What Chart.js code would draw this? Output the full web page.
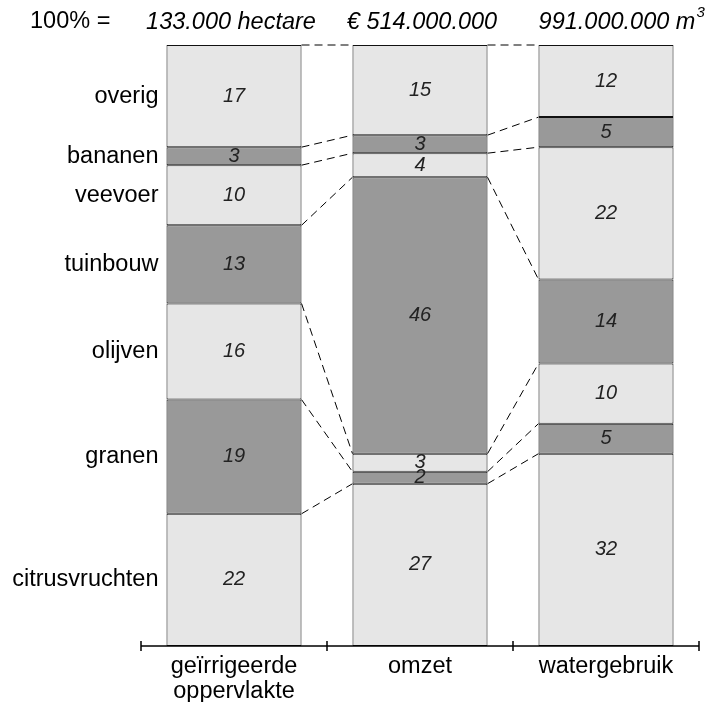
<!DOCTYPE html>
<html>
<head>
<meta charset="utf-8">
<script src="https://cdn.jsdelivr.net/npm/chart.js@4.4.1/dist/chart.umd.min.js"></script>
<style>
  html, body { margin: 0; padding: 0; background: #fff; }
  #wrap { width: 713px; height: 702px; }
</style>
</head>
<body>
<div id="wrap"><canvas id="chart" width="713" height="702"></canvas></div>
<script>
// columns (x categories)
const columns = [['geïrrigeerde', 'oppervlakte'], 'omzet', 'watergebruik'];
const totals = ['133.000 hectare', '€ 514.000.000', '991.000.000 m'];

// segments, bottom to top
const segments = ['citrusvruchten', 'granen', 'olijven', 'tuinbouw', 'veevoer', 'bananen', 'overig'];
const citrusvruchten = [22, 27, 32];
const granen = [19, 2, 5];
const olijven = [16, 3, 10];
const tuinbouw = [13, 46, 14];
const veevoer = [10, 4, 22];
const bananen = [3, 3, 5];
const overig = [17, 15, 12];

const values = [citrusvruchten, granen, olijven, tuinbouw, veevoer, bananen, overig];
const light = '#e6e6e6';
const dark = '#999999';

const font = '"Liberation Sans", Arial, sans-serif';

const overlay = {
    id: 'overlay',
    afterDatasetsDraw(chart) {
        const ctx = chart.ctx;
        const area = chart.chartArea;
        const xs = chart.scales.x;
        ctx.save();

        // dashed connectors between neighbouring bars
        ctx.strokeStyle = '#000';
        ctx.lineWidth = 1;
        ctx.setLineDash([8, 5]);
        chart.data.datasets.forEach((ds, d) => {
            const bars = chart.getDatasetMeta(d).data;
            for (let i = 0; i < bars.length - 1; i++) {
                const a = bars[i], b = bars[i + 1];
                ctx.beginPath();
                ctx.moveTo(a.x + a.width / 2, a.y);
                ctx.lineTo(b.x - b.width / 2, b.y);
                ctx.stroke();
            }
        });
        ctx.setLineDash([]);

        // values inside segments
        ctx.fillStyle = '#222';
        ctx.textAlign = 'center';
        ctx.textBaseline = 'middle';
        ctx.font = 'italic 20px ' + font;
        chart.data.datasets.forEach((ds, d) => {
            chart.getDatasetMeta(d).data.forEach((bar, i) => {
                ctx.fillText(String(ds.data[i]), bar.x, (bar.y + bar.base) / 2);
            });
        });

        // segment names left of first bar
        ctx.textAlign = 'right';
        ctx.font = '23.5px ' + font;
        ctx.fillStyle = '#000';
        chart.data.datasets.forEach((ds, d) => {
            const bar = chart.getDatasetMeta(d).data[0];
            ctx.fillText(ds.label, bar.x - bar.width / 2 - 8, (bar.y + bar.base) / 2);
        });

        // header line
        ctx.textAlign = 'left';
        ctx.fillText('100% =', 30, 22);
        ctx.font = 'italic 23.5px ' + font;
        ctx.textAlign = 'center';
        totals.forEach((t, i) => {
            const x = xs.getPixelForValue(i);
            if (i === totals.length - 1) {
                const w = ctx.measureText(t).width;
                ctx.textAlign = 'left';
                ctx.fillText(t, x - w / 2 + 11, 22);
                ctx.font = 'italic 15px ' + font;
                ctx.fillText('3', x + w / 2 + 12, 13);
            } else {
                ctx.fillText(t, i === 0 ? x - 3 : x + 2, 22);
            }
        });

        // axis line with tick marks at category boundaries
        const y0 = area.bottom;
        ctx.strokeStyle = '#000';
        ctx.lineWidth = 1.5;
        ctx.beginPath();
        ctx.moveTo(area.left, y0);
        ctx.lineTo(area.right, y0);
        const step = (xs.getPixelForValue(1) - xs.getPixelForValue(0));
        for (let i = 0; i <= columns.length; i++) {
            const x = xs.getPixelForValue(0) - step / 2 + i * step;
            ctx.moveTo(x, y0 - 5);
            ctx.lineTo(x, y0 + 5);
        }
        ctx.stroke();
        ctx.restore();
    }
};

new Chart(document.getElementById('chart'), {
    type: 'bar',
    data: {
        labels: columns,
        datasets: segments.map((name, i) => ({
            label: name,
            data: values[i],
            backgroundColor: i % 2 === 0 ? light : dark,
            borderColor: '#111',
            borderWidth: 1,
            borderSkipped: false,
            barPercentage: 0.726,
            categoryPercentage: 1
        }))
    },
    options: {
        responsive: false,
        animation: false,
        layout: { padding: { left: 141, right: 14, top: 45, bottom: -2 } },
        plugins: { legend: { display: false }, tooltip: { enabled: false } },
        scales: {
            x: {
                stacked: true,
                offset: true,
                grid: { display: false },
                border: { display: false },
                ticks: {
                    color: '#000',
                    padding: 0,
                    font: { family: font, size: 23.5, lineHeight: '25px' }
                }
            },
            y: {
                stacked: true,
                display: false,
                min: 0,
                max: 100
            }
        }
    },
    plugins: [overlay]
});
</script>
</body>
</html>
